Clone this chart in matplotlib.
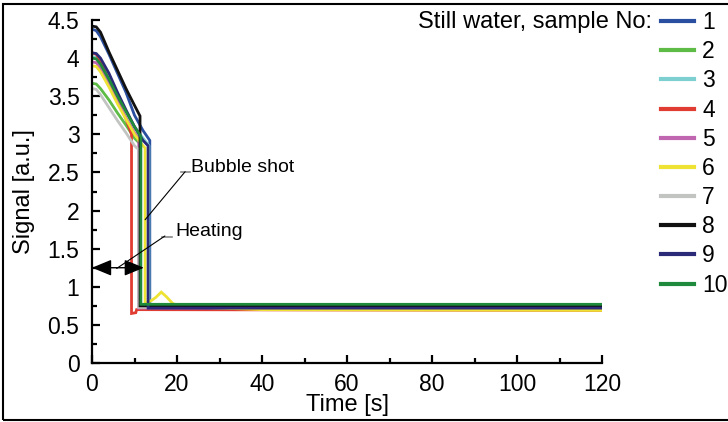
import matplotlib
matplotlib.use('Agg')
import matplotlib.pyplot as plt
from matplotlib.patches import Rectangle
from matplotlib.ticker import MultipleLocator, FormatStrFormatter

plt.rcParams['font.family'] = ['Liberation Sans', 'DejaVu Sans']

# sample colours (No 1..10)
colors = ['#2B4FA0', '#5DBB46', '#7ECFCF', '#E03C31', '#C066B0',
          '#EEE233', '#C2C4C2', '#111111', '#2A2A78', '#1F8A3C']
labels = ['1', '2', '3', '4', '5', '6', '7', '8', '9', '10']

# time [s] / signal [a.u.] knots
s1_t = [0, 1, 2, 4, 6, 8, 10, 12, 13.6, 13.6, 120]
s1_v = [4.38, 4.36, 4.28, 4.05, 3.80, 3.55, 3.25, 3.05, 2.92, 0.73, 0.73]
s2_t = [0, 1, 2, 4, 6, 8, 10, 11.2, 11.2, 120]
s2_v = [3.67, 3.66, 3.60, 3.45, 3.28, 3.12, 2.95, 2.88, 0.74, 0.74]
s3_t = [0, 1, 2, 4, 6, 8, 10, 12, 13.4, 13.4, 120]
s3_v = [4.02, 4.01, 3.95, 3.75, 3.52, 3.30, 3.10, 2.95, 2.85, 0.74, 0.74]
s4_t = [0, 1, 2, 4, 6, 8, 9.3, 9.3, 10.3, 10.5, 120]
s4_v = [4.07, 4.05, 3.96, 3.70, 3.45, 3.20, 3.00, 0.65, 0.66, 0.70, 0.69]
s5_t = [0, 1, 2, 4, 6, 8, 10, 11.0, 11.0, 120]
s5_v = [3.95, 3.94, 3.87, 3.65, 3.43, 3.22, 3.02, 2.95, 0.72, 0.72]
s6_t = [0, 1, 2, 4, 6, 8, 10, 12, 12.5, 12.5, 14, 15, 16.3, 17.5, 19, 21, 40, 120]
s6_v = [3.90, 3.89, 3.82, 3.62, 3.40, 3.20, 3.00, 2.85, 2.82, 0.78, 0.82, 0.86, 0.93, 0.87, 0.78, 0.74, 0.70, 0.69]
s7_t = [0, 1, 2, 4, 6, 8, 10, 11.0, 11.0, 120]
s7_v = [3.60, 3.59, 3.52, 3.35, 3.18, 3.02, 2.85, 2.80, 0.73, 0.73]
s8_t = [0, 1, 2, 4, 6, 8, 10, 11.3, 11.3, 120]
s8_v = [4.42, 4.41, 4.34, 4.08, 3.84, 3.60, 3.38, 3.24, 0.75, 0.75]
s9_t = [0, 1, 2, 4, 6, 8, 10, 12, 13.2, 13.2, 120]
s9_v = [4.07, 4.06, 4.00, 3.80, 3.55, 3.32, 3.10, 2.92, 2.85, 0.72, 0.72]
s10_t = [0, 1, 2, 4, 6, 8, 10, 11.5, 11.5, 120]
s10_v = [4.00, 3.99, 3.92, 3.72, 3.50, 3.30, 3.10, 2.97, 0.77, 0.77]

series_t = [s1_t, s2_t, s3_t, s4_t, s5_t, s6_t, s7_t, s8_t, s9_t, s10_t]
series_v = [s1_v, s2_v, s3_v, s4_v, s5_v, s6_v, s7_v, s8_v, s9_v, s10_v]

fig = plt.figure(figsize=(7.28, 4.22), dpi=100)
ax = fig.add_axes([92 / 728, 1 - 363 / 422, 510 / 728, 343 / 422])

for t, v, c, lab in zip(series_t, series_v, colors, labels):
    ax.plot(t, v, color=c, lw=2.0, label=lab, solid_joinstyle='miter')

ax.set_xlim(0, 120)
ax.set_ylim(0, 4.5)
ax.xaxis.set_major_locator(MultipleLocator(20))
ax.xaxis.set_minor_locator(MultipleLocator(10))
ax.yaxis.set_major_locator(MultipleLocator(0.5))
ax.yaxis.set_minor_locator(MultipleLocator(0.25))
ax.yaxis.set_major_formatter(FormatStrFormatter('%g'))
ax.tick_params(which='major', direction='in', length=6, width=1.6, labelsize=16.5)
ax.tick_params(axis='y', which='major', pad=9)
ax.tick_params(axis='x', which='major', pad=7)
ax.tick_params(which='minor', direction='in', length=3.5, width=1.6)
for side in ['top', 'right']:
    ax.spines[side].set_visible(False)
for side in ['left', 'bottom']:
    ax.spines[side].set_linewidth(1.6)
ax.set_xlabel('Time [s]', fontsize=17, labelpad=-1)
ax.set_ylabel('Signal [a.u.]', fontsize=17, labelpad=9)

# annotations
ax.annotate('Bubble shot', xy=(12.5, 1.88), xytext=(23.3, 2.56), fontsize=14,
            va='center', ha='left',
            arrowprops=dict(arrowstyle='-', color='black', lw=0.8,
                            shrinkA=2, shrinkB=0, relpos=(-0.04, 0.4)))
ax.plot([21.0, 23.0], [2.50, 2.50], color='#888888', lw=1.2)
ax.annotate('Heating', xy=(5.8, 1.24), xytext=(19.6, 1.72), fontsize=14,
            va='center', ha='left',
            arrowprops=dict(arrowstyle='-', color='black', lw=0.8,
                            shrinkA=2, shrinkB=0, relpos=(-0.12, 0.35)))
ax.plot([16.4, 18.8], [1.65, 1.65], color='#888888', lw=1.2)
ax.annotate('', xy=(0, 1.25), xytext=(12.2, 1.25),
            arrowprops=dict(arrowstyle='<|-|>,head_length=0.8,head_width=0.33',
                            color='black', lw=1.0, mutation_scale=15,
                            shrinkA=0, shrinkB=0))

leg = ax.legend(loc='upper left', bbox_to_anchor=(661 / 728, 1 - 11 / 422),
                bbox_transform=fig.transFigure, frameon=False, fontsize=16.5,
                handlelength=1.45, handletextpad=0.35, labelspacing=0.27,
                borderpad=0, borderaxespad=0)
for line in leg.get_lines():
    line.set_linewidth(3)
fig.text(652 / 728, 1 - 22 / 422, 'Still water, sample No:', fontsize=17,
         ha='right', va='center')

fig.patches.append(Rectangle((3 / 728, 2 / 422), 1.0, 1 - 6 / 422,
                             transform=fig.transFigure, fill=False,
                             edgecolor='black', lw=1.5))

fig.savefig('out.png', dpi=100)
